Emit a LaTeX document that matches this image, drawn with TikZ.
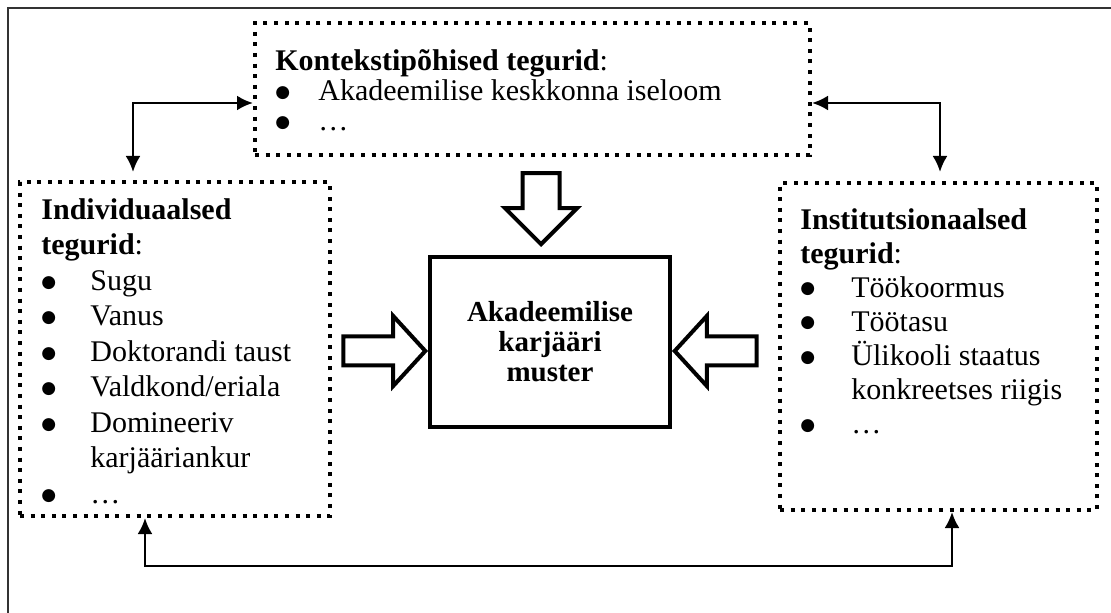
\documentclass[tikz,border=0pt]{standalone}
\usepackage{fontspec}
\setmainfont{Liberation Serif}
\newfontfamily\bltfont{DejaVu Sans}
\usepackage{tikz}
\usetikzlibrary{positioning,shapes.arrows,arrows.meta,calc}
\definecolor{FrameGrey}{HTML}{333333}
\newcommand{\blt}{\raisebox{1.6pt}{\bltfont\fontsize{8.5}{8.5}\selectfont ●}}

\begin{document}
\begin{tikzpicture}[
        x=0.5pt, y=-0.5pt,
        outerframe/.style={draw=FrameGrey, line width=1.2pt},
        factor/.style={
            rectangle, draw=black, line width=2pt,
            dash pattern=on 2pt off 3.3pt, inner sep=0pt
        },
        factortext/.style={
            anchor=north west, inner sep=0pt, align=left,
            font=\fontsize{15}{17.75}\selectfont
        },
        career/.style={
            rectangle, draw=black, line width=2pt,
            minimum width=120pt, minimum height=85pt,
            align=center, font=\bfseries\fontsize{14.5}{15}\selectfont
        },
        bigarrow/.style={
            single arrow, draw=black, line width=2pt, fill=white,
            inner xsep=0pt, inner ysep=6.25pt, minimum height=41pt,
            single arrow head extend=10.25pt, single arrow tip angle=95
        },
        link/.style={{Latex[length=8pt,width=7.5pt]}-{Latex[length=8pt,width=7.5pt]}, line width=1.3pt}
    ]
        \useasboundingbox (0,0) rectangle (1111,613);
        \draw[outerframe] (1111,8) -| (8,613);

        \node[factor, minimum width=277.5pt, minimum height=66pt] (ctx) at (532.5,89) {};
        \node[factor, minimum width=155pt, minimum height=167pt] (indiv) at (175,349) {};
        \node[factor, minimum width=158.5pt, minimum height=163.5pt] (inst) at (938.5,346.5) {};
        \node[career] (muster) at (550,342) {Akadeemilise\\karjääri\\muster};

        \node[factortext, font=\fontsize{15}{15}\selectfont] (ctxtext) at ([xshift=11pt,yshift=-14pt]ctx.north west) {%
            \begin{tabular}{@{}p{21.5pt}@{}l@{}}
                \multicolumn{2}{@{}l@{}}{\textbf{Kontekstipõhised tegurid}:}\\
                \blt & Akadeemilise keskkonna iseloom\\
                \blt & …
            \end{tabular}};
        \node[factortext] (indivtext) at ([xshift=11.5pt,yshift=-7pt]indiv.north west) {%
            \begin{tabular}{@{}p{24.5pt}@{}l@{}}
                \multicolumn{2}{@{}l@{}}{\textbf{Individuaalsed}}\\
                \multicolumn{2}{@{}l@{}}{\textbf{tegurid}:}\\
                \blt & Sugu\\
                \blt & Vanus\\
                \blt & Doktorandi taust\\
                \blt & Valdkond/eriala\\
                \blt & Domineeriv\\
                & karjääriankur\\
                \blt & …
            \end{tabular}};
        \node[factortext, font=\fontsize{15}{17}\selectfont] (insttext) at ([xshift=11pt,yshift=-12pt]inst.north west) {%
            \begin{tabular}{@{}p{25.5pt}@{}l@{}}
                \multicolumn{2}{@{}l@{}}{\textbf{Institutsionaalsed}}\\
                \multicolumn{2}{@{}l@{}}{\textbf{tegurid}:}\\
                \blt & Töökoormus\\
                \blt & Töötasu\\
                \blt & Ülikooli staatus\\
                & konkreetses riigis\\
                \blt & …
            \end{tabular}};

        \node[bigarrow, anchor=tip] (fromindiv) at ([yshift=-4.5pt]muster.west) {};
        \node[bigarrow, rotate=180, anchor=tip] (frominst) at ([yshift=-4.5pt]muster.east) {};
        \node[bigarrow, rotate=-90, anchor=tip, minimum height=35.5pt, inner ysep=8.25pt,
              single arrow head extend=8.75pt, single arrow tip angle=90] (fromctx) at ([xshift=-4.5pt,yshift=4pt]muster.north) {};

        \draw[link, shorten >=4pt] ([yshift=-7pt]ctx.west) -| ([xshift=-21pt]indiv.north);
        \draw[link, shorten >=4.5pt] ([yshift=-7pt]ctx.east) -| ([xshift=0.75pt]inst.north);
        \draw[link] ([xshift=-15pt]indiv.south) -- ++(0,-24pt) -| ([xshift=6.75pt]inst.south);
    \end{tikzpicture}
\end{document}
